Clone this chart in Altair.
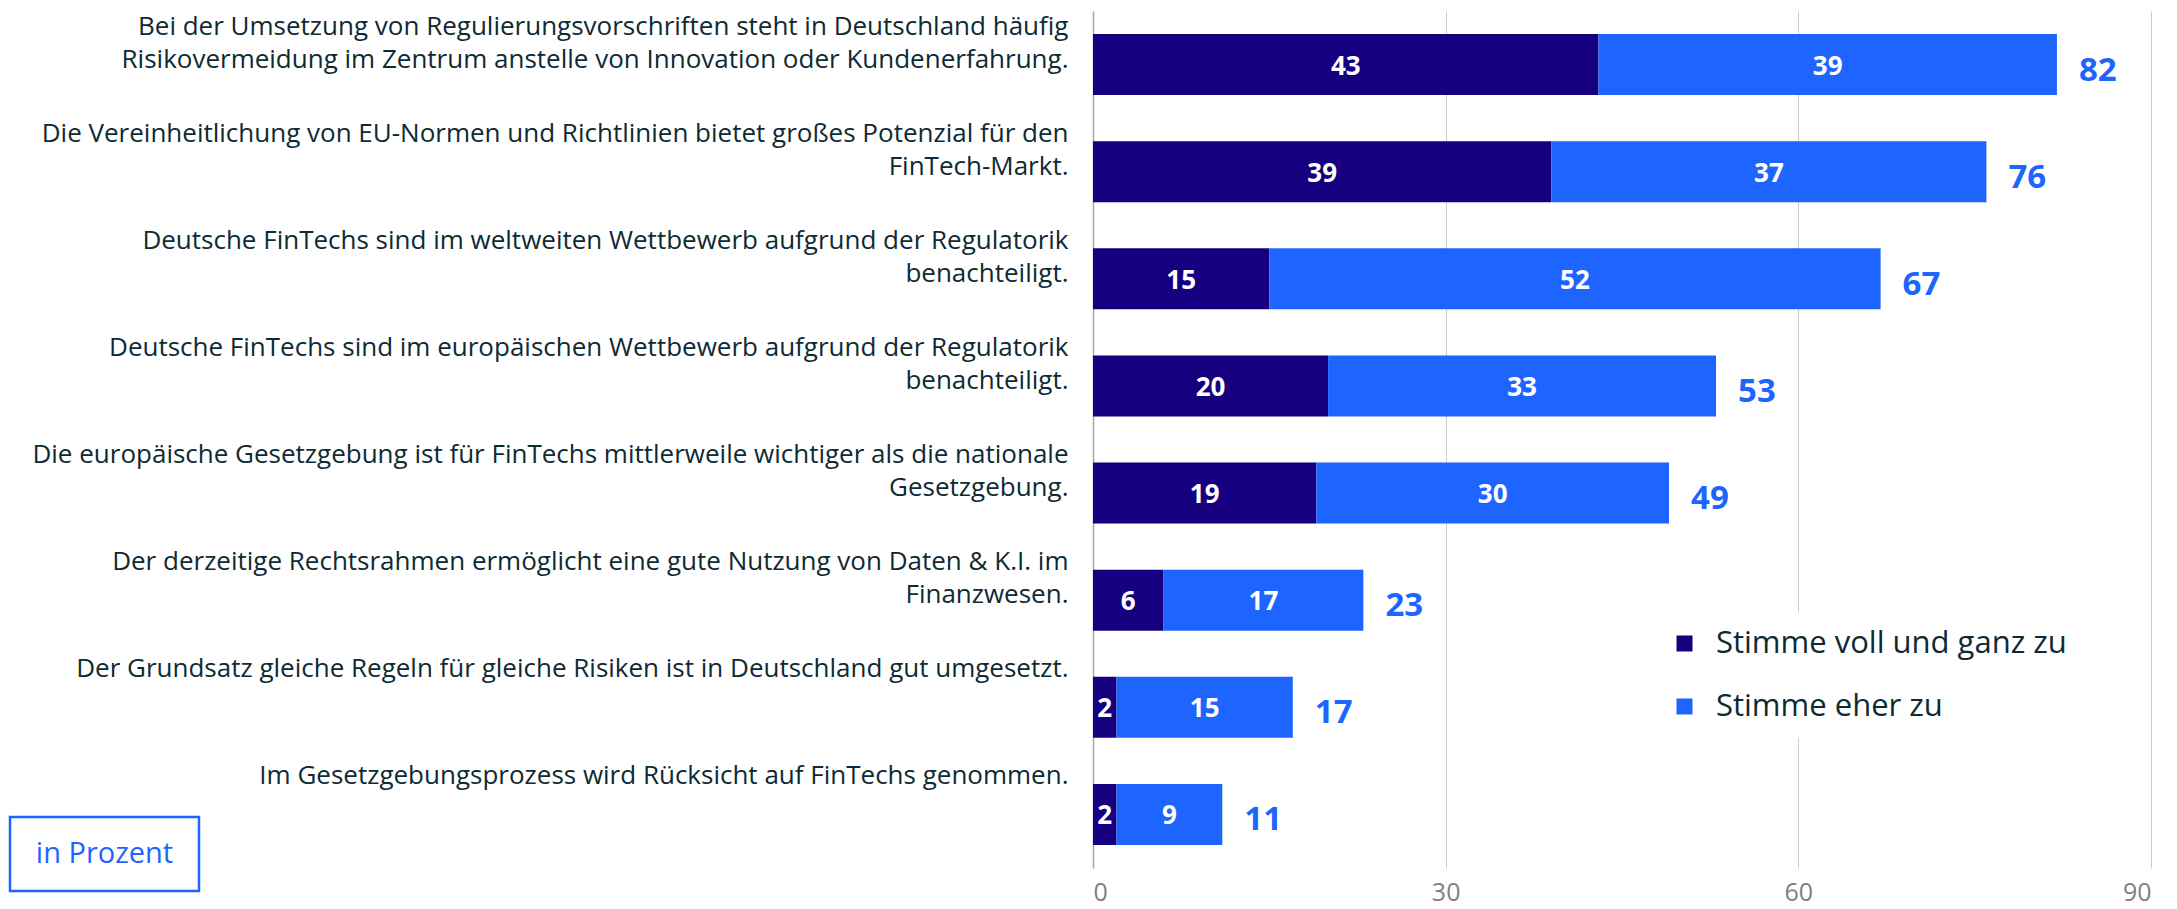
import altair as alt
import pandas as pd

categories = [
    "Bei der Umsetzung von Regulierungsvorschriften steht in Deutschland häufig\nRisikovermeidung im Zentrum anstelle von Innovation oder Kundenerfahrung.",
    "Die Vereinheitlichung von EU-Normen und Richtlinien bietet großes Potenzial für den\nFinTech-Markt.",
    "Deutsche FinTechs sind im weltweiten Wettbewerb aufgrund der Regulatorik\nbenachteiligt.",
    "Deutsche FinTechs sind im europäischen Wettbewerb aufgrund der Regulatorik\nbenachteiligt.",
    "Die europäische Gesetzgebung ist für FinTechs mittlerweile wichtiger als die nationale\nGesetzgebung.",
    "Der derzeitige Rechtsrahmen ermöglicht eine gute Nutzung von Daten & K.I. im\nFinanzwesen.",
    "Der Grundsatz gleiche Regeln für gleiche Risiken ist in Deutschland gut umgesetzt.",
    "Im Gesetzgebungsprozess wird Rücksicht auf FinTechs genommen.",
]
voll = [43, 39, 15, 20, 19, 6, 2, 2]
eher = [39, 37, 52, 33, 30, 17, 15, 9]
totals = [82, 76, 67, 53, 49, 23, 17, 11]
series = ["Stimme voll und ganz zu", "Stimme eher zu"]
x_ticks = [0, 30, 60, 90]
note = ["in Prozent"]

DARK = "#16007F"
BLUE = "#1E64FF"
TEXT = "#0E2A33"
FONT = "Open Sans"

rows = []
for c, a, b in zip(categories, voll, eher):
    rows.append(dict(cat=c, series=series[0], start=0, end=a, mid=a / 2, value=a))
    rows.append(dict(cat=c, series=series[1], start=a, end=a + b, mid=a + b / 2, value=b))
seg = pd.DataFrame(rows)
tot = pd.DataFrame({"cat": categories, "total": totals})
note_df = pd.DataFrame({"note": note})

y_axis = alt.Axis(
    title=None,
    labelExpr="split(datum.label, '\\n')",
    labelAlign="right",
    labelBaseline="top",
    labelOffset=-51,
    labelPadding=25,
    labelFontSize=26,
    labelLineHeight=33,
    labelColor=TEXT,
    labelLimit=1200,
    ticks=False,
    domain=True,
    domainColor="#A6A6A6",
    domainWidth=1.5,
    grid=False,
)
y_scale = alt.Scale(paddingInner=0.431, paddingOuter=0.2155)

x_axis = alt.Axis(
    title=None,
    values=x_ticks,
    grid=True,
    gridColor="#CCCCCC",
    gridWidth=1,
    domain=False,
    ticks=False,
    labelFontSize=25,
    labelColor="#808080",
    labelPadding=12,
)
x_scale = alt.Scale(domain=[0, 90], nice=False, zero=True)


def Y():
    return alt.Y("cat:N", sort=categories, scale=y_scale, axis=y_axis, title=None)


bars = alt.Chart(seg).mark_bar().encode(
    y=Y(),
    x=alt.X("start:Q", scale=x_scale, axis=x_axis, title=None),
    x2="end:Q",
    color=alt.Color(
        "series:N",
        scale=alt.Scale(domain=series, range=[DARK, BLUE]),
        legend=alt.Legend(
            title=None,
            orient="none",
            legendX=560,
            legendY=601,
            symbolType="square",
            symbolSize=256,
            symbolStrokeWidth=0,
            symbolOpacity=1,
            labelFontSize=31,
            labelColor=TEXT,
            labelOffset=16,
            rowPadding=31,
            padding=16,
            fillColor="white",
            labelLimit=600,
        ),
    ),
)

inner = alt.Chart(seg).mark_text(
    color="white", fontWeight="bold", fontSize=26, baseline="middle", align="center", dy=2
).encode(
    y=Y(),
    x=alt.X("mid:Q", scale=x_scale, axis=x_axis, title=None),
    text="value:Q",
)

total_text = alt.Chart(tot).mark_text(
    color=BLUE, fontWeight="bold", fontSize=33, baseline="middle", align="left", dx=22, dy=6
).encode(
    y=Y(),
    x=alt.X("total:Q", scale=x_scale, axis=x_axis, title=None),
    text="total:Q",
)

box = alt.Chart(note_df).mark_rect(
    fill="white", stroke=BLUE, strokeWidth=2.5
).encode(
    x=alt.value(-1083), x2=alt.value(-894), y=alt.value(806), y2=alt.value(880)
)

box_text = alt.Chart(note_df).mark_text(
    color=BLUE, fontSize=29, align="center", baseline="middle"
).encode(
    x=alt.value(-988.5), y=alt.value(843), text="note:N"
)

chart = (
    alt.layer(bars, inner, total_text, box, box_text)
    .properties(
        width=1058,
        height=857,
        padding={"left": 1085, "top": 3, "right": 14, "bottom": 40},
        autosize=alt.AutoSizeParams(type="none"),
    )
    .configure(font=FONT)
    .configure_view(stroke=None)
)

chart.save("out.html", embed_options={"renderer": "svg", "actions": False})
